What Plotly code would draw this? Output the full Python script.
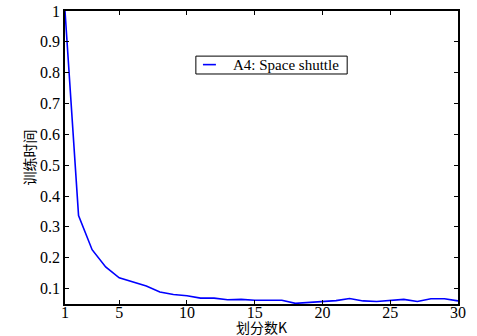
import plotly.graph_objects as go

k_values = list(range(1, 31))
train_time = [1.0, 0.337, 0.226, 0.170, 0.135, 0.122, 0.108, 0.089, 0.081, 0.077,
              0.069, 0.069, 0.064, 0.065, 0.062, 0.062, 0.062, 0.052, 0.055, 0.057,
              0.061, 0.068, 0.060, 0.058, 0.062, 0.065, 0.058, 0.067, 0.067, 0.060]
x_ticks = [1, 5, 10, 15, 20, 25, 30]
y_ticks = [0.1, 0.2, 0.3, 0.4, 0.5, 0.6, 0.7, 0.8, 0.9, 1]
y_tick_text = ["0.1", "0.2", "0.3", "0.4", "0.5", "0.6", "0.7", "0.8", "0.9", "1"]
series_name = "A4: Space shuttle"
x_title = "划分数K"
y_title = "训练时间"

serif = "Liberation Serif, Times New Roman, serif"
cjk = "Noto Sans CJK SC, sans-serif"

fig = go.Figure()
fig.add_trace(go.Scatter(x=k_values, y=train_time, mode="lines", name=series_name,
                         line=dict(color="#0000ff", width=1.6), showlegend=False))

axis_common = dict(showgrid=False, zeroline=False, showline=True, linecolor="black",
                   linewidth=1.5, mirror="ticks", ticks="inside", ticklen=4,
                   tickcolor="black", automargin=False, ticklabeloverflow="allow",
                   tickfont=dict(family=serif, size=16, color="black"))

fig.update_layout(
    width=477, height=336,
    margin=dict(l=65, r=19, t=11, b=32),
    paper_bgcolor="white", plot_bgcolor="white",
    xaxis=dict(range=[1, 30], tickvals=x_ticks, ticklabelstandoff=-7, **axis_common),
    yaxis=dict(range=[0.05, 1], tickvals=y_ticks, ticktext=y_tick_text, **axis_common),
    showlegend=False,
)

# axis titles
fig.add_annotation(text=x_title, xref="paper", yref="paper", x=0.5, y=0, yshift=-23,
                   xanchor="center", yanchor="middle", showarrow=False,
                   font=dict(family=cjk, size=14, color="black"))
fig.add_annotation(text=y_title, xref="paper", yref="paper", x=0, xshift=-37, y=0.5,
                   xanchor="center", yanchor="middle", textangle=-90, showarrow=False,
                   font=dict(family=cjk, size=14, color="black"))

# legend box
fig.add_shape(type="rect", xref="paper", yref="paper", x0=0.333, x1=0.718, y0=0.785, y1=0.846,
              line=dict(color="black", width=1), fillcolor="white", layer="above")
fig.add_shape(type="line", xref="paper", yref="paper", x0=0.351, x1=0.384, y0=0.817, y1=0.817,
              line=dict(color="#0000ff", width=1.6), layer="above")
fig.add_annotation(text=series_name, xref="paper", yref="paper", x=0.422, y=0.817,
                   xanchor="left", yanchor="middle", showarrow=False,
                   font=dict(family=serif, size=15, color="black"))

fig.write_html("out.html", config={"displayModeBar": False},
               post_script="document.body.style.margin='0';document.body.style.overflow='hidden';")
